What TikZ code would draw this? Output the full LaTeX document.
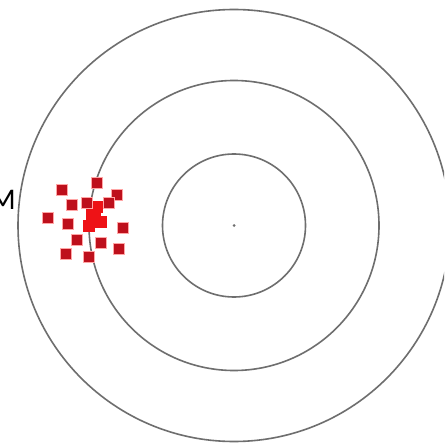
\documentclass[tikz,border=0pt]{standalone}
\usepackage{fontspec}
\setmainfont{Carlito}
\definecolor{ringgray}{RGB}{110,110,110}
\definecolor{shotred}{RGB}{190,16,28}
\definecolor{shotbright}{RGB}{238,18,22}
\begin{document}
\begin{tikzpicture}[x=1pt,y=-1pt,
  ring/.style={draw=ringgray,line width=1.6pt},
  shot/.style={fill=shotred,draw=red!35,line width=1.4pt,minimum size=11pt,inner sep=0pt,shape=rectangle},
  hot/.style={fill=shotbright,draw=none,minimum size=12pt,inner sep=0pt,shape=rectangle}]
\useasboundingbox (0,0) rectangle (444,446);
\clip (0,0) rectangle (444,446);
\fill[white] (0,0) rectangle (444,446);
% rings
\coordinate (c) at (234,225.5);
\draw[ring] (c) circle[radius=216];
\draw[ring] (c) circle[radius=145];
\draw[ring] (c) circle[radius=71.5];
\fill[ringgray] (c) circle[radius=1.5];
% label
\node[anchor=base west,inner sep=0pt,font=\fontsize{30}{30}\selectfont] (lbl) at (-10,209) {M};
% shots
\node[hot] (h1) at (92,214) {};
\node[hot] (h2) at (101,222) {};
\node[hot] (h3) at (89,226) {};
\node[hot] (h4) at (97,207) {};
\node[shot] (s1) at (62,190) {};
\node[shot] (s2) at (97,183) {};
\node[shot] (s3) at (117,195) {};
\node[shot] (s4) at (72,205) {};
\node[shot] (s5) at (87,203) {};
\node[shot] (s6) at (109,203) {};
\node[shot] (s7) at (48,218) {};
\node[shot] (s8) at (68,224) {};
\node[shot] (s9) at (123,228) {};
\node[shot] (s10) at (77,240) {};
\node[shot] (s11) at (101,243) {};
\node[shot] (s12) at (66,254) {};
\node[shot] (s13) at (89,257) {};
\node[shot] (s14) at (119,249) {};
\node[hot] (h5) at (95,218) {};
\end{tikzpicture}
\end{document}
